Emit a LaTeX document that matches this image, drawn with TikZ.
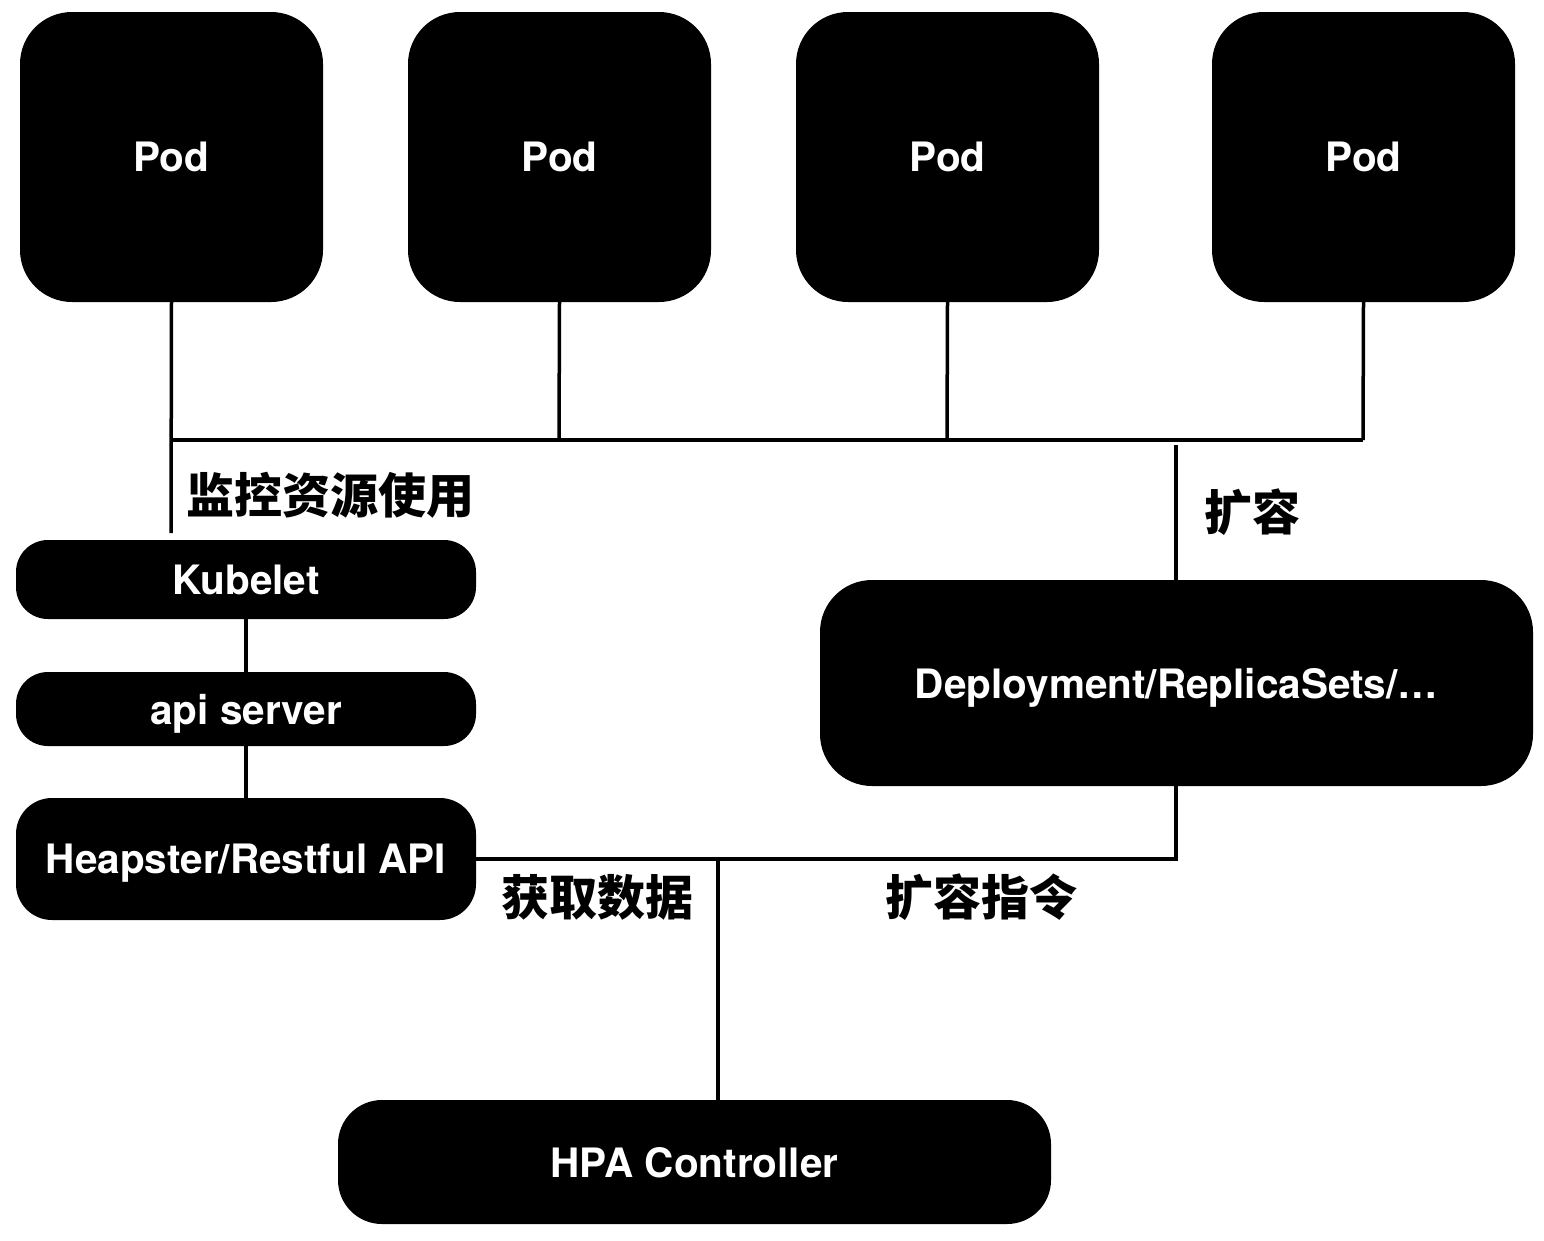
\documentclass[tikz,border=0pt]{standalone}
\usepackage{fontspec}
\setmainfont{TeX Gyre Heros}
\newfontfamily\cjk{Noto Sans CJK SC}
\begin{document}
\begin{tikzpicture}[x=1pt,y=-1pt,
  box/.style={fill=black,draw=none,inner sep=0pt,text=white,
    text depth=0pt,
    font=\bfseries\fontsize{40.5}{42}\selectfont},
  podbox/.style={box,minimum width=303pt,minimum height=290pt,rounded corners=52pt},
  bar/.style={box,minimum width=460pt,rounded corners=32pt},
  big/.style={box,minimum width=713pt,rounded corners=48pt},
  wire/.style={line width=3.5pt},
  lbl/.style={anchor=west,inner sep=0pt,font=\cjk\bfseries\fontsize{48}{50}\selectfont}]
\useasboundingbox (0,0) rectangle (1544,1240);
\node[podbox] (p1) at (171.5,157) {Pod};
\node[podbox] (p2) at (559.5,157) {Pod};
\node[podbox] (p3) at (947.5,157) {Pod};
\node[podbox] (p4) at (1363.5,157) {Pod};
\node[bar,minimum height=79pt] (kub) at (246,579.5) {Kubelet};
\node[bar,minimum height=74pt] (api) at (246,709) {api server};
\node[bar,minimum height=122pt,rounded corners=36pt] (heap) at (246,859) {Heapster/Restful API};
\node[big,minimum height=206pt,rounded corners=52pt] (dep) at (1176.5,683) {Deployment/ReplicaSets/…};
\node[big,minimum height=124pt,rounded corners=44pt] (hpa) at (694.5,1162) {HPA Controller};
% bus coordinates
\coordinate (b1) at (171,440);
\coordinate (b2) at (559,440);
\coordinate (b3) at (947,440);
\coordinate (b4) at (1363,440);
\coordinate (k1) at (171,533);
\coordinate (d1) at (1176,445);
\coordinate (d2) at (1176,859);
\coordinate (j) at (718,859);
\draw[wire] (p1.south) -- (k1);
\draw[wire] (p2.south) -- (b2);
\draw[wire] (p3.south) -- (b3);
\draw[wire] (p4.south) -- (b4);
\draw[wire] (b1) -- (b4);
\draw[wire] (d1) -- (dep.north -| d1);
\draw[wire] (kub.south) -- (api.north);
\draw[wire] (api.south) -- (heap.north);
\draw[wire] (heap.east) -- (d2) -- (dep.south -| d2);
\draw[wire] (j) -- (hpa.north -| j);
\node[lbl] (l1) at (186,495) {监控资源使用};
\node[lbl] (l2) at (1204,512) {扩容};
\node[lbl] (l3) at (501,897) {获取数据};
\node[lbl] (l4) at (885,897) {扩容指令};
\end{tikzpicture}
\end{document}
